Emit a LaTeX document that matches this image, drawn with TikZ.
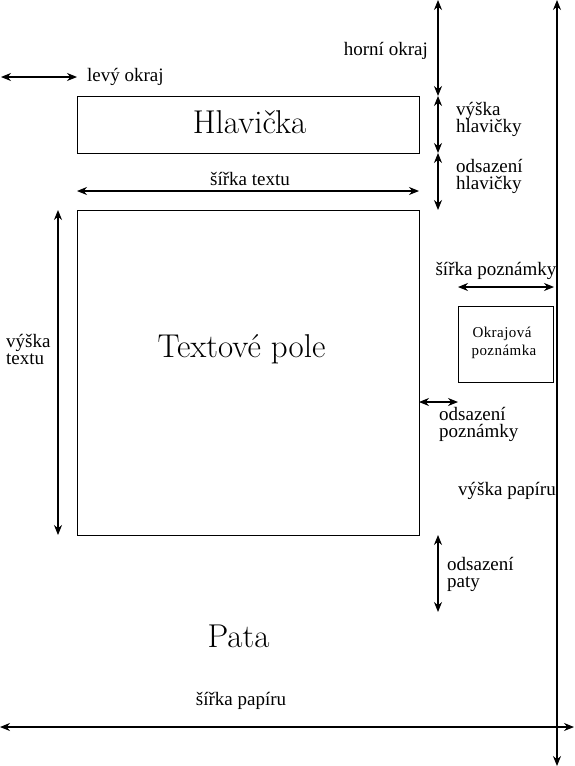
\documentclass[tikz,border=0pt]{standalone}
\usepackage{fontspec}
\newfontfamily\serifface{Liberation Serif}
\newfontfamily\notefont[LetterSpace=3]{Liberation Serif}
\usetikzlibrary{arrows.meta}
\tikzset{
  box/.style={draw, line width=0.9pt, inner sep=0pt, outer sep=0pt},
  dim/.style={line width=1.1pt, {Stealth[length=10pt,width=8pt]}-{Stealth[length=10pt,width=8pt]}},
  lbl/.style={inner sep=0pt, font=\serifface\fontsize{19}{17.5}\selectfont, align=left},
  big/.style={inner sep=0pt, font=\rmfamily\fontsize{33}{33}\selectfont},
  note/.style={inner sep=0pt, font=\notefont\fontsize{15}{20}\selectfont, align=center}
}
\begin{document}
\begin{tikzpicture}[x=1pt,y=-1pt]
\useasboundingbox (0,0) rectangle (574,766);
% boxes
\node[box, minimum width=342pt, minimum height=57pt] (head) at (248,124.5) {};
\node[box, minimum width=342pt, minimum height=325pt] (body) at (248,372.5) {};
\node[box, minimum width=95pt, minimum height=76pt] (notebox) at (505.5,344) {};
% big texts
\node[big, anchor=base] (headtxt) at (249.5,133) {Hlavička};
\node[big, anchor=base] (bodytxt) at (241.5,357) {Textové pole};
\node[big, anchor=base] (foot) at (238.5,647) {Pata};
\node[note, anchor=base] (notetxt1) at (502,337) {Okrajová};
\node[note, anchor=base] (notetxt2) at (504,355) {poznámka};
% coordinates
\coordinate (lm1) at (1,77);
\coordinate (lm2) at (77,77);
\coordinate (v0) at (438,0);
\coordinate (v1) at (438,96);
\coordinate (v2) at (438,153);
\coordinate (v3) at (438,210);
\coordinate (v4) at (438,535);
\coordinate (v5) at (438,612);
\coordinate (tw1) at (77,191);
\coordinate (tw2) at (419,191);
\coordinate (th1) at (58,210);
\coordinate (th2) at (58,535);
\coordinate (nw1) at (458,287);
\coordinate (nw2) at (554,287);
\coordinate (ns1) at (419,402);
\coordinate (ns2) at (458,402);
\coordinate (ph1) at (557,0);
\coordinate (ph2) at (557,766);
\coordinate (pw1) at (0,727);
\coordinate (pw2) at (574,727);
% dimension arrows
\draw[dim] (lm1) -- (lm2);
\draw[dim] (v0) -- (v1);
\draw[dim] (v1) -- (v2);
\draw[dim] (v2) -- (v3);
\draw[dim] (v4) -- (v5);
\draw[dim] (tw1) -- (tw2);
\draw[dim] (th1) -- (th2);
\draw[dim] (nw1) -- (nw2);
\draw[dim] (ns1) -- (ns2);
\draw[dim] (ph1) -- (ph2);
\draw[dim] (pw1) -- (pw2);
% labels (anchor = baseline of last line)
\node[lbl, anchor=base east] (l1) at (428,55) {horní okraj};
\node[lbl, anchor=base west] (l2) at (87,81) {levý okraj};
\node[lbl, anchor=base west] (l3) at (456,132.5) {výška\\hlavičky};
\node[lbl, anchor=base west] (l4) at (456,189.5) {odsazení\\hlavičky};
\node[lbl, anchor=base] (l5) at (250,185) {šířka textu};
\node[lbl, anchor=base west] (l6) at (6,364.5) {výška\\textu};
\node[lbl, anchor=base] (l7) at (496,275) {šířka poznámky};
\node[lbl, anchor=base west] (l8) at (439,437.5) {odsazení\\poznámky};
\node[lbl, anchor=base east] (l9) at (556,495) {výška papíru};
\node[lbl, anchor=base west] (l10) at (447,587.5) {odsazení\\paty};
\node[lbl, anchor=base] (l11) at (241,705) {šířka papíru};
\end{tikzpicture}
\end{document}
